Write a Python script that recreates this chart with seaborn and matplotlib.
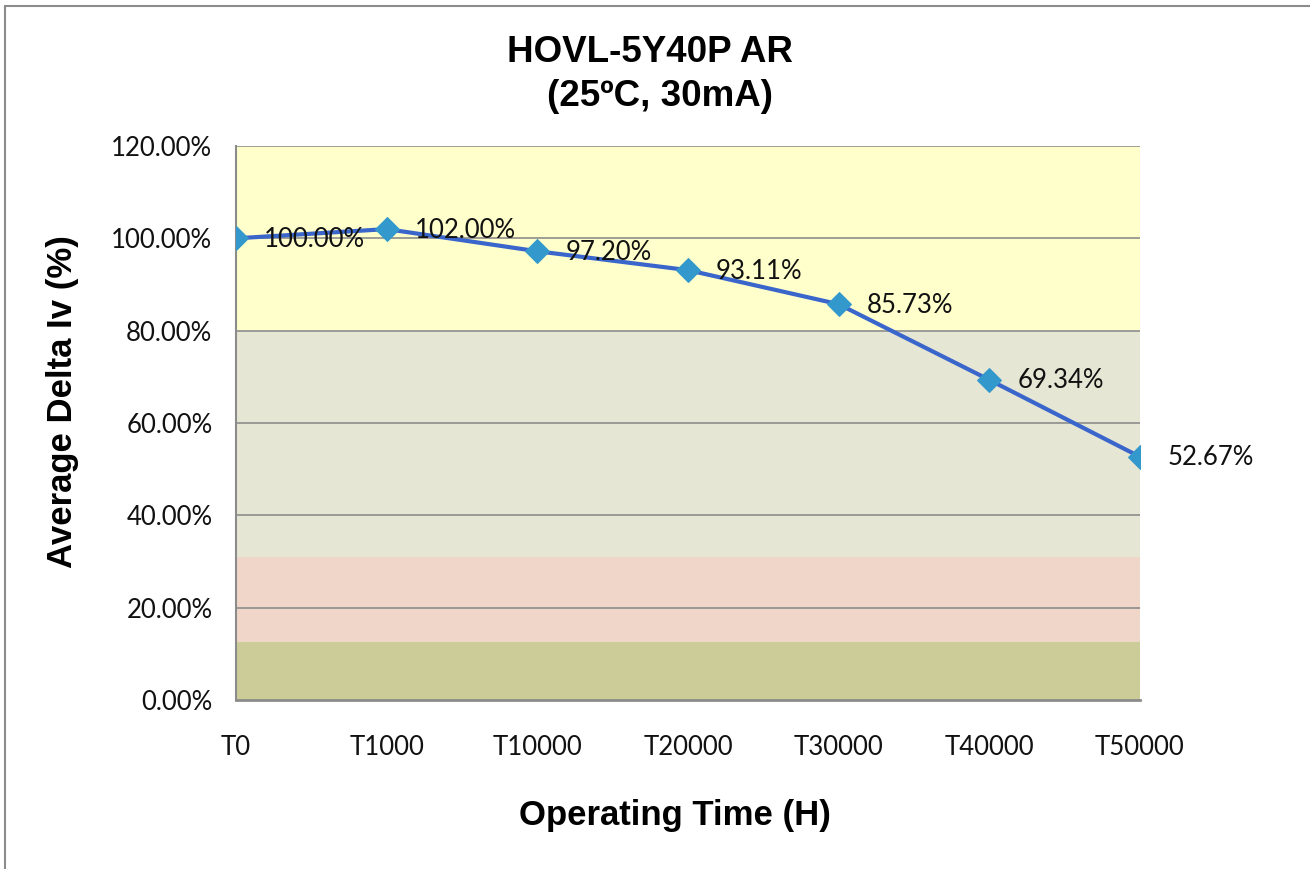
import matplotlib
matplotlib.use("Agg")
import matplotlib.pyplot as plt
import seaborn as sns
import pandas as pd
from matplotlib.patches import Rectangle

categories = ["T0", "T1000", "T10000", "T20000", "T30000", "T40000", "T50000"]
values = [100.00, 102.00, 97.20, 93.11, 85.73, 69.34, 52.67]
labels = ["100.00%", "102.00%", "97.20%", "93.11%", "85.73%", "69.34%", "52.67%"]
yticks = [0, 20, 40, 60, 80, 100, 120]
ytick_labels = ["0.00%", "20.00%", "40.00%", "60.00%", "80.00%", "100.00%", "120.00%"]
band_edges = [0, 12.5, 31, 80, 120]
band_colors = ["#CCCC99", "#F0D6C8", "#E6E6D4", "#FFFFCC"]

df = pd.DataFrame({"time": categories, "iv": values})

sns.set_theme(style="white")
plt.rcParams["font.family"] = ["Lato", "DejaVu Sans"]
plt.rcParams["text.color"] = "#111111"
plt.rcParams["xtick.color"] = "#111111"
plt.rcParams["ytick.color"] = "#111111"
plt.rcParams["axes.labelcolor"] = "black"

fig = plt.figure(figsize=(13.1, 8.69), dpi=100)
ax = fig.add_axes([236/1310, 1 - 700/869, (1140-236)/1310, (700-146)/869])

for lo, hi, c in zip(band_edges[:-1], band_edges[1:], band_colors):
    ax.axhspan(lo, hi, color=c, zorder=0, lw=0)

for t in yticks[1:]:
    ax.axhline(t, color="#8c8c8c", lw=1.2, zorder=1)

sns.lineplot(data=df, x="time", y="iv", ax=ax, color="#3A66CC", lw=3,
             marker="D", markersize=12.5, markerfacecolor="#3399CC",
             markeredgecolor="#3399CC", zorder=3, sort=False)

for i, (v, lab) in enumerate(zip(values, labels)):
    ax.annotate(lab, (i, v), xytext=(28, -1), textcoords="offset pixels",
                ha="left", va="center", fontsize=18.5, color="#111111", zorder=4)

ax.set_xlim(0, len(categories) - 1)
ax.set_ylim(0, 120)
ax.set_yticks(yticks)
ax.set_yticklabels(ytick_labels, fontsize=18.5)
ax.set_xticks(range(len(categories)))
ax.set_xticklabels(categories, fontsize=18.5)
ax.tick_params(axis="x", pad=25, length=0)
ax.tick_params(axis="y", pad=17, length=0)

for s in ["top", "right"]:
    ax.spines[s].set_visible(False)
ax.spines["left"].set_color("#8c8c8c")
ax.spines["left"].set_linewidth(1.5)
ax.spines["bottom"].set_color("#8c8c8c")
ax.spines["bottom"].set_linewidth(2)

ax.set_xlabel("Operating Time (H)", fontsize=25, fontweight="bold",
              family=["Liberation Sans", "DejaVu Sans"])
ax.set_ylabel("Average Delta Iv (%)", fontsize=25, fontweight="bold",
              family=["Liberation Sans", "DejaVu Sans"])
ax.xaxis.set_label_coords((675 - 236) / (1140 - 236), -(815 - 700) / (700 - 146))
ax.yaxis.set_label_coords(-(236 - 62) / (1140 - 236), (700 - 402) / (700 - 146))
ax.xaxis.label.set_va("center")
ax.yaxis.label.set_va("center")

fig.text(650/1310, 1 - 53/869, "HOVL-5Y40P AR", ha="center", va="center",
         fontsize=26.5, fontweight="bold", family=["Liberation Sans", "DejaVu Sans"], color="black")
fig.text(660/1310, 1 - 97/869, "(25ºC, 30mA)", ha="center", va="center",
         fontsize=26.5, fontweight="bold", family=["Liberation Sans", "DejaVu Sans"], color="black")

fig.patches.append(Rectangle((5/1310, -0.01), 1.02, 1 - 6/869 + 0.01, transform=fig.transFigure,
                             fill=False, edgecolor="#8c8c8c", lw=1.5))

fig.savefig("out.png", dpi=100, facecolor="white")
